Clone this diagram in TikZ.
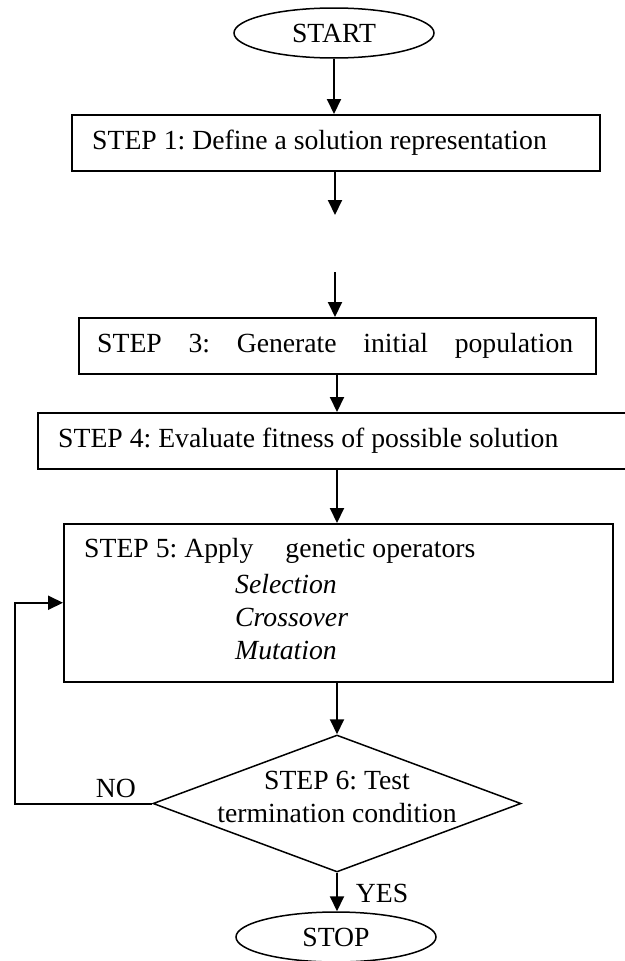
\documentclass[tikz,border=0pt]{standalone}
\usepackage{fontspec}
\setmainfont{Liberation Serif}
\usetikzlibrary{shapes.geometric,arrows.meta}
\frenchspacing
\begin{document}
\begin{tikzpicture}[x=1pt,y=-1pt,
  font=\fontsize{27.7}{32.5}\selectfont\frenchspacing,
  stepbox/.style={draw, line width=1.5pt, rectangle, inner sep=0pt, anchor=north west},
  term/.style={draw, line width=1.5pt, ellipse, inner sep=0pt, minimum width=200pt, minimum height=50pt},
  txt/.style={inner sep=0pt, anchor=west},
  flow/.style={line width=2pt, -{Triangle[length=15pt,width=14pt]}}]
\useasboundingbox (0,0) rectangle (624,961);

% trunk positions of the vertical connectors
\coordinate (upper) at (335,0);
\coordinate (trunk) at (337,0);
\coordinate (loop) at (15,0);

% terminals
\node[term] (start) at (334,33) {START};
\node[term] (stop) at (336,937) {STOP};

% process boxes
\node[stepbox, minimum width=528pt, minimum height=56pt] (s1) at (71,114) {};
\node[txt] (t1) at (92,143) {STEP 1: Define a solution representation};

\node[stepbox, minimum width=517pt, minimum height=56pt] (s3) at (78,317) {};
\node[txt] (t3) at (97,346) {\makebox[476pt][s]{STEP 3: Generate initial population}};

\node[stepbox, minimum width=600pt, minimum height=56pt] (s4) at (37,412) {};
\node[txt] (t4) at (58,441) {STEP 4: Evaluate fitness of possible solution};

\node[stepbox, minimum width=549pt, minimum height=158pt] (s5) at (63,523) {};
\node[txt] (t5) at (84,551) {STEP 5: Apply\hspace{32pt}genetic operators};
\node[txt] (op1) at (235,584) {\itshape Selection};
\node[txt] (op2) at (235,617) {\itshape Crossover};
\node[txt] (op3) at (235,650) {\itshape Mutation};

% decision
\node[draw, line width=1.5pt, diamond, inner sep=0pt, minimum width=368pt, minimum height=137pt] (d) at (337,803.5) {};
\node[inner sep=0pt, align=center] (t6) at (337,797) {STEP 6: Test\\termination condition};

% free ends of the split connector
\coordinate (gapTop) at (335,215);
\coordinate (gapBot) at (335,272);

% connectors
\draw[flow] (start.south) -- (start.south |- s1.north);
\draw[flow] (s1.south -| upper) -- (gapTop);
\draw[flow] (gapBot) -- (s3.north -| upper);
\draw[flow] (s3.south -| trunk) -- (s4.north -| trunk);
\draw[flow] (s4.south -| trunk) -- (s5.north -| trunk);
\draw[flow] (s5.south -| trunk) -- (d.north);
\draw[flow] (d.west) -- (d.west -| loop) -- (loop |- s5.west) -- (s5.west);
\draw[flow] (d.south) -- (d.south |- stop.north);

% branch labels
\node[inner sep=0pt] (no) at (116,788) {NO};
\node[inner sep=0pt] (yes) at (382,893) {YES};
\end{tikzpicture}
\end{document}
